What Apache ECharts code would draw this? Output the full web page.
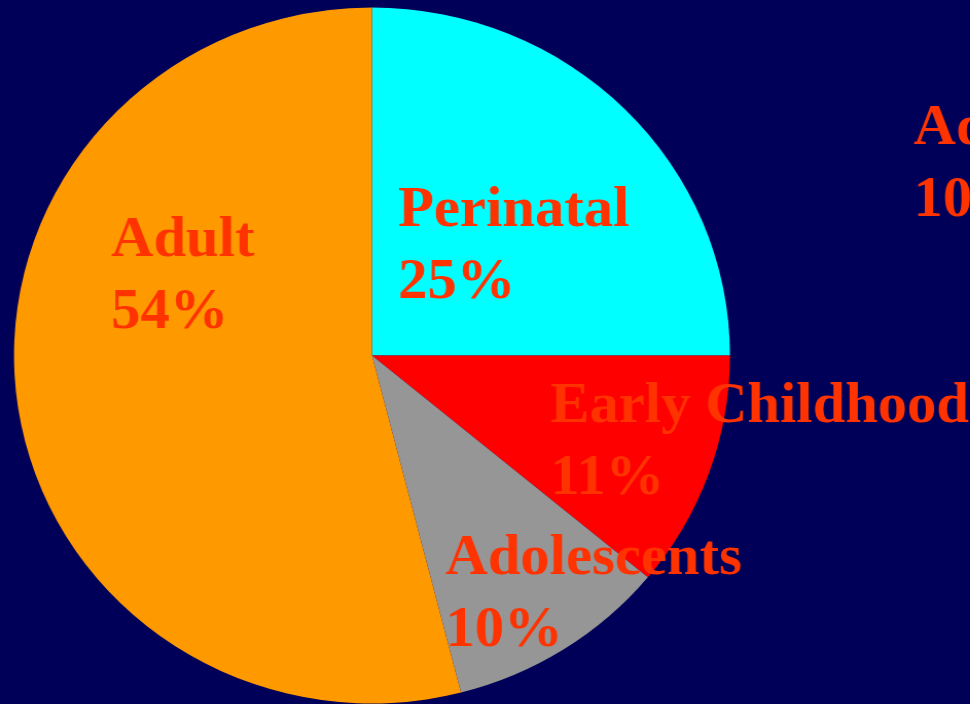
<!DOCTYPE html>
<html>
<head>
<meta charset="utf-8">
<script src="https://cdn.jsdelivr.net/npm/echarts@6/dist/echarts.min.js"></script>
<style>
  html, body { margin: 0; padding: 0; background: #000058; overflow: hidden; }
  /* the slide art is slightly wider than tall, so the whole chart is stretched horizontally */
  #chart { width: 943px; height: 704px; transform: scaleX(1.0287); transform-origin: 0 0; }
</style>
</head>
<body>
<div id="chart"></div>
<script>
// Share of cases by age group (percent)
const categories = ['Perinatal', 'Early Childhood', 'Adolescents', 'Adult'];
const shares = [25, 11, 10, 54];
const sliceColors = ['#00FFFF', '#FF0000', '#969696', '#FF9900'];

// label anchor (top-left of each two-line label), in chart pixels
const labelAnchors = [
  [387, 175],
  [535, 371],
  [433, 523],
  [108, 205]
];

const labelFont = '"Liberation Serif", "Times New Roman", serif';
const labelColor = '#FF3300';
const labelSize = 57;
const labelLineHeight = 72;

const chart = echarts.init(document.getElementById('chart'), null, { renderer: 'canvas' });

chart.setOption({
  backgroundColor: '#000058',
  animation: false,
  graphic: [{
    type: 'text',
    x: 888,
    y: 93,
    style: {
      text: categories[2] + '\n' + shares[2] + '%',
      fill: labelColor,
      font: 'bold ' + labelSize + 'px ' + labelFont,
      lineHeight: labelLineHeight,
      verticalAlign: 'top',
      align: 'left'
    }
  }],
  series: [{
    type: 'pie',
    center: [361.6, 355.5],
    radius: 348,
    startAngle: 90,
    clockwise: true,
    silent: true,
    itemStyle: { borderWidth: 0 },
    label: {
      show: true,
      position: 'inside',
      formatter: '{b}\n{c}%',
      color: labelColor,
      fontFamily: labelFont,
      fontWeight: 'bold',
      fontSize: labelSize,
      lineHeight: labelLineHeight,
      align: 'left'
    },
    labelLine: { show: false },
    labelLayout: function (params) {
      const a = labelAnchors[params.dataIndex];
      return { x: a[0], y: a[1], align: 'left', verticalAlign: 'top' };
    },
    data: categories.map((name, i) => ({
      name: name,
      value: shares[i],
      itemStyle: { color: sliceColors[i] }
    }))
  }]
});
</script>
</body>
</html>
